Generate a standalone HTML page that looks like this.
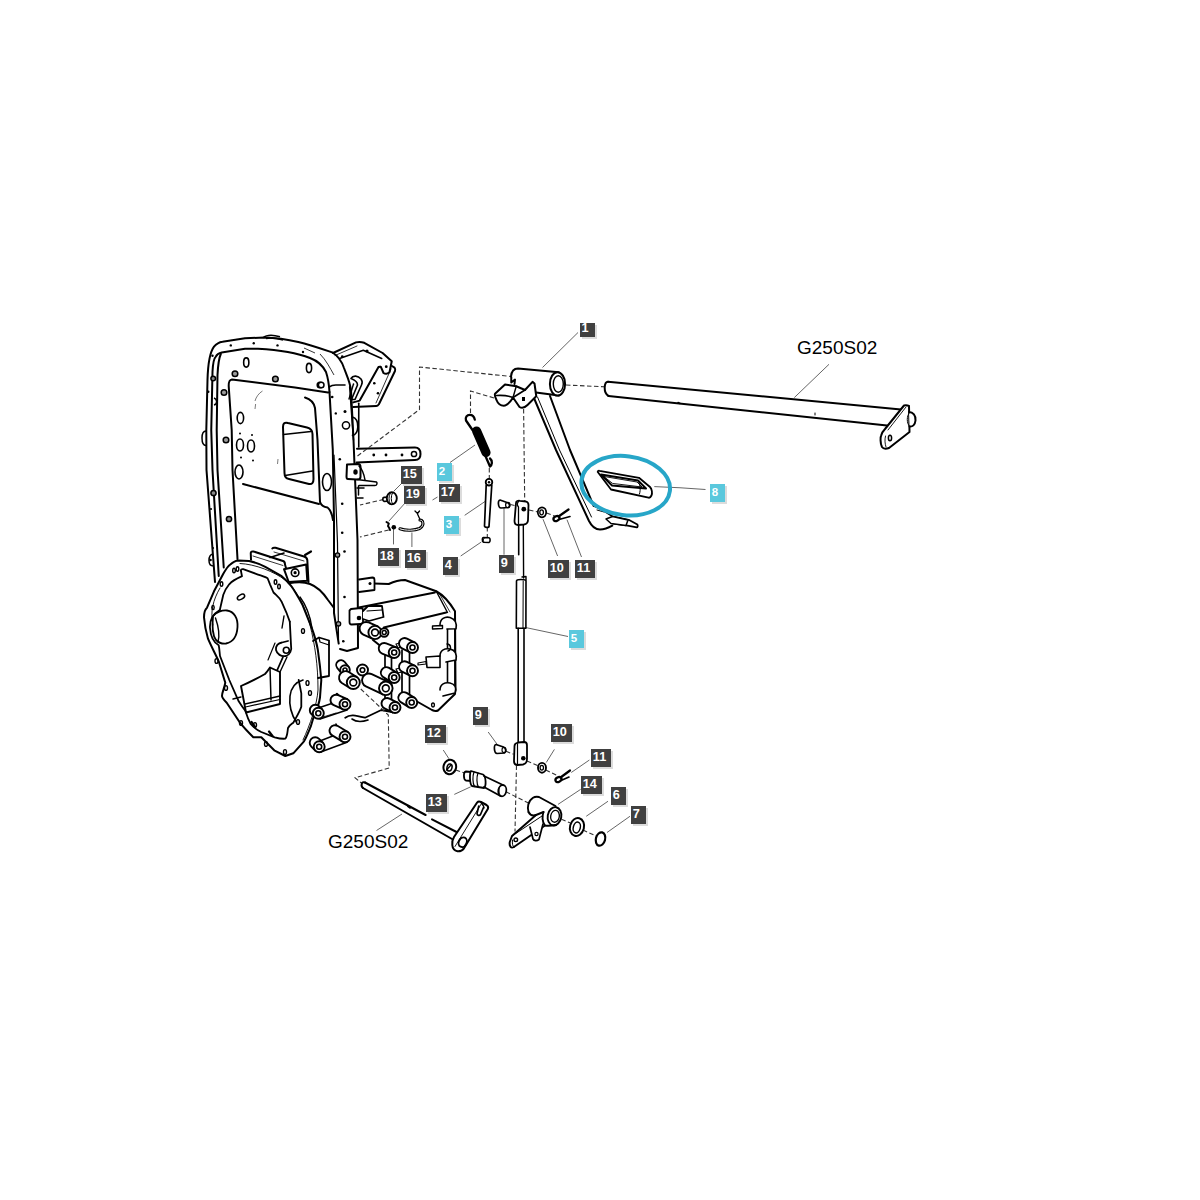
<!DOCTYPE html>
<html><head><meta charset="utf-8"><style>
html,body{margin:0;padding:0;background:#fff;width:1200px;height:1200px;overflow:hidden}
svg{position:absolute;left:0;top:0}
.lb{font-family:"Liberation Sans",sans-serif;font-weight:bold;font-size:12.5px;fill:#fff}
.tx{font-family:"Liberation Sans",sans-serif;font-size:19px;fill:#000}
</style></head><body>
<svg width="1200" height="1200" viewBox="0 0 1200 1200">
<!-- 10_frame.svg -->
<g id="frame" fill="none" stroke="#000" stroke-width="2" stroke-linecap="round" stroke-linejoin="round">
<!-- outer rim outer edge -->
<path d="M215,582 L206.5,470 L206.3,430 L207.5,380 C208,362 210,352 214,346.7 C217,343 220,342 222.5,341.7 L245,338.3 L264,337.5 C290,338 310,345 332.5,352.5 C338,356 342,362 344,368 C347,376 350,382 351,390 L353.5,440 L357.5,540 L358,648 L347,651 L340,649"/>
<!-- rim second line -->
<path d="M218.75,576 L212.5,470 L211.25,430 L212.5,371.7 C213,362 214,358 215.8,356.7 C217,354 219,353 221.7,352.5 L245,348.75 L258,348.75 C280,350 300,354 310,358 C318,361 323,366 326,372 C328,378 329,384 329.5,392"/>
<!-- left rail inner line -->
<path d="M223.75,567.5 L217.5,470 L216.7,430 L217.5,375 C218,365 219,358 220.8,354"/>
<!-- panel -->
<path d="M237.5,559 L232.5,470 L231.7,430 L228.75,386.7 C228.5,382 229,380 232,379.5 L295,387.5 L328,392.5"/>
<!-- right column inner double lines -->
<path d="M329.5,392 L332.8,450 L334,520 L334,613 L338.7,643.6"/>
<path d="M334,455 L337.5,543 L338.5,640" stroke-width="1.2"/>
<!-- panel inner right curve + diagonal -->
<path d="M305,397.5 C310,399 314,403 315,408 L317.5,440 L320,502 C321,505 324,507 327.5,507.5 C331,510 332,514 333,520"/>
<path d="M243,484 L319,504" />
<!-- window -->
<path d="M283,427 C283,423 285,422 288,423 L307,427.5 C311,428.5 312.5,430 312.5,434 L313.5,479 C313.5,483 312,484.5 309,484 L289,479 C286,478.5 284.5,476 284.5,473 Z"/>
<path d="M283.5,434.5 L311,431.5" stroke-width="1.5"/>
<path d="M285,475.5 L312.5,471" stroke-width="1.5"/>
</g>
<g id="frame-holes" fill="none" stroke="#000" stroke-width="1.6">
<ellipse cx="246.25" cy="362.5" rx="2.6" ry="4.6"/>
<ellipse cx="240.4" cy="418" rx="3.2" ry="5.6"/>
<ellipse cx="309" cy="368" rx="2.6" ry="4.6"/>
<ellipse cx="240" cy="445" rx="3.5" ry="6"/>
<ellipse cx="251" cy="446" rx="3.5" ry="6"/>
<ellipse cx="239" cy="472" rx="4" ry="7"/>
<ellipse cx="327" cy="482" rx="4.5" ry="8.5"/>
<ellipse cx="323" cy="372" rx="0" ry="0"/>
</g>
<g id="frame-bolts" fill="#000" stroke="none">
<circle cx="230.8" cy="345.4" r="1.2"/><circle cx="253.75" cy="343.3" r="1.2"/><circle cx="277.5" cy="345.4" r="1.2"/>
<circle cx="303" cy="352" r="1.2"/><circle cx="212.5" cy="355.8" r="1.2"/><circle cx="208.3" cy="391.7" r="1.2"/>
<circle cx="339.8" cy="459.3" r="1.3"/><circle cx="342.2" cy="503.7" r="1.3"/><circle cx="342.2" cy="532.8" r="1.3"/><circle cx="344.5" cy="551.5" r="1.3"/><circle cx="344.5" cy="597" r="1.3"/><circle cx="343.3" cy="641.3" r="1.3"/>
</g>
<g id="frame-nuts" fill="#999" stroke="#000" stroke-width="1.5">
<circle cx="235" cy="373.75" r="2.8"/><circle cx="275.4" cy="379" r="2.8"/><circle cx="224" cy="392.5" r="2.8"/>
<circle cx="320" cy="385" r="2.8"/><circle cx="226" cy="440" r="2.8"/>
</g>
<g fill="#888" stroke="#000" stroke-width="1.5">
<path d="M206,431 C202.5,431 202,434 202,438 C202,443 203,445.5 206,445.5" fill="none"/>
<path d="M213,554 C209.5,554.5 209,557.5 209,560.5 C209,563.5 210,566 213.5,566" fill="none"/><circle cx="210.5" cy="560" r="1.3" fill="#000" stroke="none"/><circle cx="211" cy="509" r="1.1" fill="#000" stroke="none"/><circle cx="213" cy="548" r="1.1" fill="#000" stroke="none"/>
<circle cx="213.5" cy="493" r="2.6"/>
<circle cx="229" cy="519" r="2.6"/>
<circle cx="213.2" cy="378.5" r="2.3"/><path d="M214,398 C217,399 218,404 214,405" fill="none"/>
</g>

<g fill="#000">
<circle cx="240" cy="433.5" r="1"/><circle cx="252" cy="435" r="1"/><circle cx="241" cy="457.5" r="1"/><circle cx="253" cy="460.5" r="1"/>
</g>
<path d="M304,348 L315,353 M320,354 C326,360 330,368 334,375" fill="none" stroke="#000" stroke-width="0.8"/>

<g fill="#999" stroke="#000" stroke-width="1.3">
<circle cx="337.5" cy="555" r="2.2"/><circle cx="338.5" cy="623.8" r="2.2"/>
</g>
<path d="M263,337.8 C266,335.2 272,334.3 280,336.8 M266,338.5 C271,337.5 276,338 283,340" fill="none" stroke="#000" stroke-width="1.5"/>
<path d="M262.5,391 C259,393 256,397 255,401 M255.6,404 L255,409" fill="none" stroke="#444" stroke-width="0.7"/>
<path d="M278,459 L277.5,464" fill="none" stroke="#444" stroke-width="0.7"/>

<!-- 11_frame_right.svg -->
<g id="frame-right" fill="none" stroke="#000" stroke-width="2" stroke-linecap="round" stroke-linejoin="round">
<!-- column top cap -->
<path d="M329.4,386.8 C331,385.5 333,385 335.8,385 L345,385" stroke-width="1.6"/>
<!-- column right rail -->
<path d="M349.6,386.8 L352,420 L353.5,440" stroke-width="1.4"/>
<path d="M358.75,403.3 L358.75,447" stroke-width="1.6"/>
<!-- bracket -->
<path d="M333,353 L356,342.4 C359,341.5 362,342 364.25,342.8 L382.6,353 L391.75,361.2 L389.5,372.2 C388,374 385,374 383.5,373 L380.75,366.7"/>
<path d="M339.5,358.4 L363.3,350.2 L381.7,358.4" stroke-width="1.6"/>
<path d="M335,355.5 L357,346" stroke-width="0.8"/>
<path d="M380,366.7 L378.5,367 L359.7,400.6 L353.25,402.4"/>
<path d="M392,366 L394.5,367.6 C395.5,369 395.5,370 395,371 L378.9,404.25 C378,405.5 377,406 376.2,406 L353.25,407"/>
<path d="M391,369 L376,403" stroke-width="0.8"/>
<!-- hook -->
<path d="M351,378.5 C353,375 358,375.5 361,379 C362.5,381 362.5,383 361.5,385 L355,399.5 L351.5,399.5 L357.5,385 C357.5,382 355,380 351,378.5 Z" stroke-width="1.6"/>
<path d="M353.5,384 L349,399" stroke-width="1.4"/>
<!-- side tab on column -->
<path d="M352.3,417 C356,418 358,422 357.8,427 C357.5,432 355,435 352.5,435.4" stroke-width="1.6"/>
<!-- horizontal strip -->
<path d="M357,448.75 L415,447.5 C419,447.5 420.5,450 420.5,454 C420.5,458 419,460 415,460 L356.5,462.5"/>
<!-- tab with hole -->
<path d="M347,464.5 L358,464 C360,464 360.5,465 360.5,467 L360.5,477 C360.5,479 359,479.5 357,479.5 L348,479 C346.5,479 346.5,478 346.5,476.5 Z" fill="#fff"/>
<path d="M357,479.5 L376.5,482 C377.5,483 377,485.5 375,485.5 L359,485.5" stroke-width="1.5"/>
<path d="M359,466 C362,469 364,474 365,480" stroke-width="1.5"/>
<path d="M358.5,486 L358.5,495" stroke-width="1.5"/>
<path d="M357,488 L364,488 M357,498 L363,498" stroke-width="1.5"/>
</g>
<g fill="#000">
<ellipse cx="355.5" cy="472" rx="2.2" ry="2.8"/>
<circle cx="374.3" cy="383.2" r="1.3"/><circle cx="378" cy="393.25" r="1.3"/><circle cx="386.25" cy="366.7" r="1.4"/>
<circle cx="342.25" cy="356.6" r="1.3"/><circle cx="367" cy="351" r="1.6"/>
<circle cx="345" cy="411.6" r="1.5"/><circle cx="335.8" cy="413.4" r="1.2"/><circle cx="332.2" cy="397" r="1.3"/>
<circle cx="373.75" cy="455" r="1.4"/><circle cx="386" cy="455" r="1.4"/><circle cx="402" cy="455" r="1.4"/>
</g>
<g fill="#fff" stroke="#000" stroke-width="1.5">
<circle cx="346" cy="425.3" r="3.6"/>
<circle cx="321.2" cy="385" r="2.8"/>
<circle cx="414" cy="454" r="2.6"/>
</g>

<!-- 20_bell.svg -->
<g id="bell" fill="none" stroke="#000" stroke-width="2" stroke-linecap="round" stroke-linejoin="round">
<!-- top blocks behind -->
<path d="M251,559.8 L250.75,553 C251,551.5 252,551.2 253.5,551.5 L283,561 C284.5,561.5 285,563 285,564.5 L286.3,569.2" fill="#fff"/>
<path d="M272.3,548.5 C273,547.5 274,547.5 275.5,547.8 L304,556.5 C306,557 307,558 307.3,560 L308.5,582" />
<path d="M284,569.2 L306.2,564.5 L307.3,580.8 L288.7,582 Z" fill="#fff"/>
<path d="M253,556 L283,565.5" stroke-width="0.8"/>
<path d="M274,552 L304,561" stroke-width="0.8"/>
<path d="M270,557.5 L284,553" stroke-width="1.6"/>
<circle cx="295.1" cy="572.7" r="3.8" stroke-width="1.6"/>
<circle cx="295.1" cy="572.7" r="1.6" fill="#000" stroke="none"/>
<path d="M305,555 L311,551.5" stroke-width="2.2"/>
<!-- bell body right side back -->
<path d="M288.7,583.2 C296,582 305,582 310,584 C318,587 324,594 328,600 L334,608" />
<path d="M313,641 L319,637.5 L329,640.5 L329,676 L318,678" stroke-width="1.8"/>
<path d="M319,637.5 L320,642 L329,645" stroke-width="1.2"/>
<path d="M300,597 C306,605 310,615 312,628" stroke-width="1.4"/>
<!-- flange outer contour -->
<path d="M238.5,560.4 L249,561 C256,562.5 262,565 265.3,566.8 L281.7,576.2 C287,581 291,585 293.3,589 C297,595 300,600 302.7,605.3 L312,628.7 C315,637 317,645 317.8,649.7 C319,658 320.5,670 321.3,680 L320,697.5 C319,705 316,712 313,719 L310.7,726.7 C308,733 306,738 304,741.3 L293.3,753.3 L285.3,756 L274.7,750.7 C272,748 270,746 268,744 L261.3,737.3 L253.3,737.3 C248,732 244,728 240,722.7 L226.7,702.7 C224,700 222,698 222,696 C222,692 224.5,688 225.3,682.7 L218.7,661.3 C215,653 211,646 208,638.7 C206,632 204.5,624 204,617.3 C204,612 205.5,609 207,607.7 L214,591.3 L223.3,573.8 C226,569 228,566 230.3,564.5 C233,562 236,560.5 238.5,560.4 Z"/>
<!-- thin inner line of flange -->
<path d="M240,563.5 C255,564 275,572 285,580 C295,588 305,605 310,625 C315,645 318,665 318,690 C317,705 310,725 303,740" stroke-width="0.9"/>
<path d="M213,625 C210,612 213,600 220,588" stroke-width="0.9"/>
<!-- inner opening -->
<path d="M219.8,610 L223.3,594.8 C225,590 227,587 229.2,584.3 C233,580 238,578 242,576.2 L240.8,570.3 C241,569.5 242,569 243.2,569.2 L256,573.8 C262,576 266,577 267.7,578.5 L270,584.3 L273.5,592.5 C277,596 280,598 281.7,601.8 L286.3,612.3 L289.8,621.7" stroke-width="1.8"/>
<!-- bell bottom inner contour -->
<path d="M219.8,610 C213,614 209.5,620 210,628 C210.5,636 213,642 218.7,645.3 C219.5,649 219.5,652 220,656 L229.3,680 L238.7,701.3 C241,705 243,708 245.3,710.7 C247,716 248.5,720 250.7,724 C254,728 257,730 261.3,732 L274.7,737.3 C279,738.5 282,739 285.3,738.7 C287.5,736 287.5,731 288,728 C289.5,725 291.5,724 293.3,722.7 C297,716 300,711 301.3,706.7 L301.3,693.3 L298.7,680" stroke-width="1.8"/>
<path d="M251.5,722 L255,727 M269,731.5 L272.5,736" stroke-width="2.2"/>
<!-- rib and eyelet -->
<path d="M289.8,621.7 L291,645 C292,650 290,655 286,656 C281,657 277,654 276,650 C275.5,646 278,643 282,642.5 L288,641" stroke-width="1.8"/>
<circle cx="286.3" cy="650.2" r="3" stroke-width="1.6"/>
<path d="M284,616 L282,628" stroke-width="1.4"/>
<path d="M283,657 L275,675" stroke-width="1.8"/>
<path d="M287,657 L280,672" stroke-width="1.4"/>
<!-- circle hole left -->
<path d="M213,616 C216,612 222,610 227,610.5 C234,611.5 238,618 237.5,627 C237,636 233,642 226,643.5 C222,644 219,643 216,640 C213,636 212,626 213,616 Z" stroke-width="1.8"/>
<path d="M215.5,618 C219,628 220,635 218,642" stroke-width="1.4"/>
<!-- slot top -->
<ellipse cx="241" cy="597" rx="4" ry="2.2" transform="rotate(-30 241 597)" stroke-width="1.5"/>
<!-- block prism inside -->
<path d="M241,686 C248,683 258,678 265,674 C267,672 269,669 270,667.5 L280,672 L280,704 L246,712.5 L241,686 Z" fill="#fff" stroke-width="1.9"/>
<path d="M270,667.5 L271,700" stroke-width="1.5"/>
<path d="M245,704 L280,696" stroke-width="1.5"/>
<path d="M245.5,707 L280,699.5" stroke-width="1.2"/>
<path d="M233,699 L241,697" stroke-width="1.4"/>
<path d="M275,643 L268,660" stroke-width="1.2"/>
<!-- oval right lower hole -->
<path d="M303,680 C296,682 291,688 290,696 C289,705 291,714 296.5,722.3" stroke-width="1.6"/>
</g>
<g fill="none" stroke="#000" stroke-width="1.4">
<ellipse cx="234" cy="570.5" rx="1.3" ry="2.2"/><ellipse cx="237.5" cy="569" rx="1.3" ry="2.2"/>
<ellipse cx="221.5" cy="584" rx="1.3" ry="2.2"/><ellipse cx="213" cy="607.5" rx="1.2" ry="2"/>
<ellipse cx="275.5" cy="582" rx="1.3" ry="2.2"/><ellipse cx="279" cy="586.5" rx="1.3" ry="2.2"/>
<ellipse cx="303" cy="631" rx="1.5" ry="2.4"/>
<ellipse cx="307.5" cy="683" rx="1.5" ry="2.4"/><ellipse cx="310" cy="693" rx="1.5" ry="2.4"/>
<ellipse cx="216.5" cy="661" rx="1.5" ry="2.4"/><ellipse cx="226" cy="688" rx="1.5" ry="2.4"/>
<ellipse cx="241" cy="723" rx="1.5" ry="2.4"/><ellipse cx="255" cy="725" rx="1.5" ry="2.4"/>
<ellipse cx="298" cy="722" rx="1.5" ry="2.4"/><ellipse cx="266" cy="744" rx="1.5" ry="2.4"/><ellipse cx="285" cy="752" rx="1.5" ry="2.4"/>
</g>

<!-- 30_gear.svg -->
<g id="gear" fill="none" stroke="#000" stroke-width="2" stroke-linecap="round" stroke-linejoin="round">
<path d="M374,583.5 L388.75,584 C395,581 400,580 405,580 L436.25,591.25 C445,596 450,603 455,611.25 L455.5,688 L455,694 L438,710.5 C436,711.5 434,711 432,710 L417,701.5" stroke-width="2" fill="#fff"/>
<path d="M358.75,607.5 L435,592.5" stroke-width="1.8" fill="none"/>
<path d="M383.75,627.5 L446.25,612.5" stroke-width="1.8" fill="none"/>
<path d="M436.25,591.25 L447.5,612.5" stroke-width="1.4" fill="none"/>
<path d="M439,593 L450,612" stroke-width="0.8" fill="none"/>
<path d="M359,579.5 L372.5,577.5 C374,577.5 374.5,578.5 374.5,580 L374.5,590 L359,592" stroke-width="1.8" fill="#fff"/>
<circle cx="370" cy="583.5" r="1.5" fill="#000" stroke="none"/>
<path d="M351,609 L361,608 C362.5,608 363,609 363,610.5 L363,622 C363,623.5 362,624 360.5,624 L351.5,624.5 C350,624.5 349.5,623.5 349.5,622 L349.5,610.5 Z" stroke-width="1.8" fill="#fff"/>
<circle cx="359" cy="618" r="2.3" fill="#000" stroke="none"/>
<path d="M363,611 L368,606 L382,606 L383.5,617 L369,621 L363,619" stroke-width="1.8" fill="#fff"/>
<path d="M367,611 L382,610" stroke-width="1.2" fill="none"/>
<path d="M447.5,627.5 L447.5,682.5 M455,612 L455,690" stroke-width="1.6" fill="none"/>
<path d="M440,625 C440,619 445,616 450,617.5 C455,619 457,623 456,628.75 L447,629" stroke-width="1.6" fill="#fff"/>
<path d="M440,656 C440,650 445,648 450,649 C455,650 457,654 456,660 L446,662" stroke-width="1.6" fill="#fff"/>
<path d="M440,690 C440,684 445,682 450,683 C455,684 457,688 455,693 L443,696" stroke-width="1.6" fill="#fff"/>
<path d="M447,644 C451,644 452,650 448,651" stroke-width="1.4" fill="none"/>
<path d="M432.5,626 L442.5,625.5 L442.5,628.5 L432.5,629 Z" stroke-width="1.4" fill="#fff"/>
<path d="M426,657 L440,656 L440,667.5 L427,667.5 Z" stroke-width="1.6" fill="#fff"/>
<path d="M418,663 L426,661.5 L426,664 L418,665 Z" stroke-width="1.2" fill="#fff"/>
<ellipse cx="433" cy="705" rx="1.4" ry="2" stroke-width="1.4"/>
<path d="M345.2,717.7 C350,714 355,715 365,717.7 L381.3,710 L392,712" stroke-width="1.8" fill="none"/>
<path d="M352,719 C356,722 362,722 368,720" stroke-width="1.6" fill="none"/>
<path d="M385,655 L385,700 M391.5,655 L391.5,702" stroke-width="1.7" fill="none"/>
<path d="M402,650 L402,697 M409.5,650 L409.5,697" stroke-width="1.7" fill="none"/>
<path d="M396,644 L404,642 L406,646 L398,648 Z" stroke-width="1.2" fill="#fff"/>
<path d="M396,669 L404,667 L406,671 L398,673 Z" stroke-width="1.2" fill="#fff"/>
<path d="M373,640 L383,648" stroke-width="2" fill="none"/>
<path d="M337,694 L344,702" stroke-width="2.5" fill="none"/>
<path d="M318.3,708 L345,699 M320,719 L347,710" stroke-width="1.6" fill="none"/>
<path d="M319.2,741.2 L345,731.2 M320,752.2 L347,742.2" stroke-width="1.6" fill="none"/>
<path d="M336,724 L340,735" stroke-width="1.6" fill="none"/>
<path d="M323,717 L336,713" stroke-width="0.8" fill="none"/>
<path d="M377.68,626.47 L368.68,622.47 A6.6,6.6 0 0 0 363.32,634.53 L372.32,638.53 Z" fill="#fff" stroke-width="1.9"/>
<circle cx="375" cy="632.5" r="6.6" fill="#fff" stroke-width="1.9"/>
<circle cx="375" cy="632.5" r="3.4" stroke-width="1.6"/>
<circle cx="384.2" cy="632.5" r="4.2" fill="#fff" stroke-width="1.9"/>
<circle cx="384.2" cy="632.5" r="2" stroke-width="1.6"/>
<path d="M414.96,642.58 L406.96,638.58 A5.5,5.5 0 0 0 402.04,648.42 L410.04,652.42 Z" fill="#fff" stroke-width="1.9"/>
<circle cx="412.5" cy="647.5" r="5.5" fill="#fff" stroke-width="1.9"/>
<circle cx="412.5" cy="647.5" r="2.5" stroke-width="1.6"/>
<path d="M396.24,647.39 L386.24,643.39 A5.5,5.5 0 0 0 382.16,653.61 L392.16,657.61 Z" fill="#fff" stroke-width="1.9"/>
<circle cx="394.2" cy="652.5" r="5.5" fill="#fff" stroke-width="1.9"/>
<circle cx="394.2" cy="652.5" r="2.5" stroke-width="1.6"/>
<path d="M414.96,665.88 L406.96,661.88 A5.5,5.5 0 0 0 402.04,671.72 L410.04,675.72 Z" fill="#fff" stroke-width="1.9"/>
<circle cx="412.5" cy="670.8" r="5.5" fill="#fff" stroke-width="1.9"/>
<circle cx="412.5" cy="670.8" r="2.5" stroke-width="1.6"/>
<path d="M397.11,672.84 L389.11,667.84 A5.5,5.5 0 0 0 383.29,677.16 L391.29,682.16 Z" fill="#fff" stroke-width="1.9"/>
<circle cx="394.2" cy="677.5" r="5.5" fill="#fff" stroke-width="1.9"/>
<circle cx="394.2" cy="677.5" r="2.5" stroke-width="1.6"/>
<path d="M414.61,697.84 L406.61,692.84 A5.5,5.5 0 0 0 400.79,702.16 L408.79,707.16 Z" fill="#fff" stroke-width="1.9"/>
<circle cx="411.7" cy="702.5" r="5.5" fill="#fff" stroke-width="1.9"/>
<circle cx="411.7" cy="702.5" r="2.5" stroke-width="1.6"/>
<path d="M397.46,702.58 L389.46,698.58 A5.5,5.5 0 0 0 384.54,708.42 L392.54,712.42 Z" fill="#fff" stroke-width="1.9"/>
<circle cx="395" cy="707.5" r="5.5" fill="#fff" stroke-width="1.9"/>
<circle cx="395" cy="707.5" r="2.5" stroke-width="1.6"/>
<path d="M348.75,667.00 L344.75,662.00 A4.8,4.8 0 0 0 337.25,668.00 L341.25,673.00 Z" fill="#fff" stroke-width="1.9"/>
<circle cx="345" cy="670" r="4.8" fill="#fff" stroke-width="1.9"/>
<circle cx="345" cy="670" r="2" stroke-width="1.6"/>
<circle cx="362.5" cy="670" r="5.5" fill="#fff" stroke-width="1.9"/>
<circle cx="362.5" cy="670" r="2.3" stroke-width="1.6"/>
<path d="M356.74,676.99 L348.74,671.99 A6.5,6.5 0 0 0 341.86,683.01 L349.86,688.01 Z" fill="#fff" stroke-width="1.9"/>
<circle cx="353.3" cy="682.5" r="6.5" fill="#fff" stroke-width="1.9"/>
<circle cx="353.3" cy="682.5" r="3.4" stroke-width="1.6"/>
<path d="M388.70,682.15 L371.70,674.15 A6.8,6.8 0 0 0 365.90,686.45 L382.90,694.45 Z" fill="#fff" stroke-width="1.9"/>
<circle cx="385.8" cy="688.3" r="6.8" fill="#fff" stroke-width="1.9"/>
<circle cx="385.8" cy="688.3" r="3.4" stroke-width="1.6"/>
<path d="M347.23,699.17 L338.23,695.17 A5.5,5.5 0 0 0 333.77,705.23 L342.77,709.23 Z" fill="#fff" stroke-width="1.9"/>
<circle cx="345" cy="704.2" r="5.5" fill="#fff" stroke-width="1.9"/>
<circle cx="345" cy="704.2" r="2.5" stroke-width="1.6"/>
<path d="M322.19,709.41 L319.19,706.41 A5.5,5.5 0 0 0 311.41,714.19 L314.41,717.19 Z" fill="#fff" stroke-width="1.9"/>
<circle cx="318.3" cy="713.3" r="5.5" fill="#fff" stroke-width="1.9"/>
<circle cx="318.3" cy="713.3" r="2.5" stroke-width="1.6"/>
<path d="M347.83,731.98 L337.83,725.98 A5.5,5.5 0 0 0 332.17,735.42 L342.17,741.42 Z" fill="#fff" stroke-width="1.9"/>
<circle cx="345" cy="736.7" r="5.5" fill="#fff" stroke-width="1.9"/>
<circle cx="345" cy="736.7" r="2.5" stroke-width="1.6"/>
<path d="M323.09,742.81 L319.09,738.81 A5.5,5.5 0 0 0 311.31,746.59 L315.31,750.59 Z" fill="#fff" stroke-width="1.9"/>
<circle cx="319.2" cy="746.7" r="5.5" fill="#fff" stroke-width="1.9"/>
<circle cx="319.2" cy="746.7" r="2.5" stroke-width="1.6"/>
</g>
<!-- 40_lines.svg -->
<g id="dashed" fill="none" stroke="#333" stroke-width="1.1" stroke-dasharray="4.5,2.5">
<path d="M357.5,456 L419.5,409.5 L419.5,367 L511,376.5"/>
<path d="M470.5,413 L470.5,391 L496,398.5"/>
<path d="M523.6,409 L524.7,501"/>
<path d="M489.3,468 L489.3,479"/>
<path d="M487.3,527 L487.3,537.5"/>
<path d="M510.5,504.5 L514.5,505.5"/>
<path d="M529,510 L538,512"/>
<path d="M546.5,513 L555.8,516.5"/>
<path d="M566,385 L604.3,386.8"/>
<path d="M383.75,499.4 L360,505"/>
<path d="M388.75,530 L360,537"/>
<path d="M360.8,689 L388.3,715 L389.2,768 L355,777.8 L362,783.5"/>
<path d="M455.75,770 L464.75,773"/>
<path d="M506,751.25 L513.5,754.25"/>
<path d="M527,761 L539,766.25"/>
<path d="M545.75,770 L558.5,776"/>
<path d="M516.5,765.5 L515,831.5"/>
<path d="M506,791.75 L528.5,803"/>
<path d="M555,816.5 L570.5,823"/>
<path d="M583,830 L596,836"/>
</g>
<g id="leaders" fill="none" stroke="#555" stroke-width="0.9">
<path d="M393.75,491.25 L401.25,483.75"/>
<path d="M388.75,521.25 L404.4,503.75"/>
<path d="M393.5,528.5 L393.5,544.4"/>
<path d="M411.9,532.5 L411.9,547"/>
<path d="M432.5,500 L437.5,497"/>
<path d="M450,462.5 L475,445"/>
<path d="M464.7,515.3 L485.3,501.3"/>
<path d="M460.7,556 L481.3,542"/>
<path d="M504,508 L504,554.7"/>
<path d="M543,519.2 L557.6,556"/>
<path d="M567,519.75 L581.5,557"/>
<path d="M578,332.5 L542.5,367.5"/>
<path d="M654.3,486.6 L680,487.75 L705.5,489.5"/>
<path d="M525,627.4 L568,636.5"/>
<path d="M829,364.3 L794.3,397.6"/>
<path d="M376.5,830.5 L402,814"/>
<path d="M488.2,732 L497.5,744.8"/>
<path d="M443.25,750 L449,758.8"/>
<path d="M454.3,794.4 L470.7,786.8"/>
<path d="M554.4,749.4 L546.25,762.5"/>
<path d="M589.4,760 L571.25,772.5"/>
<path d="M580.6,789.4 L558,804.4"/>
<path d="M608,801.25 L586.25,816.25"/>
<path d="M630,816.25 L607,832.5"/>
</g>

<!-- 50_parts_top.svg -->
<g id="parts-top" fill="none" stroke="#000" stroke-width="1.8" stroke-linecap="round" stroke-linejoin="round">
<!-- knob 15 -->
<path d="M384,497.3 L390,497 L390.5,501 L384,501.3 C382.5,501.2 382.3,497.5 384,497.3 Z" fill="#fff" stroke-width="1.7"/>
<ellipse cx="391.8" cy="498.3" rx="5" ry="6.1" fill="#fff" stroke-width="1.9"/>
<path d="M390.5,493 C388.5,496 388.5,501 390.5,504 M392.5,492.8 C390.8,496 390.8,501 392.5,504" stroke-width="1"/>
<!-- clip 19 -->
<path d="M386.5,522 L388.8,523.5 L388,526 L389.5,528.5 L390,530" stroke-width="2"/>
<circle cx="393.8" cy="527.3" r="2.3" fill="#000" stroke="none"/>
<!-- wire 16 -->
<path d="M400,528.8 C406,531 415,530.5 419.5,528.5 C422.5,527 423.5,524 422.5,521.5 C422,520.5 421,520 420,520" stroke-width="3.2"/>
<path d="M400,528.8 C406,531 415,530.5 419.5,528.5 C422.5,527 423.5,524 422.5,521.5 C422,520.5 421,520 420,520" stroke="#fff" stroke-width="1"/>
<path d="M420,519.5 L417.5,514 M415,511 L417.5,513.5 L419.5,511" stroke-width="1.3"/>
<!-- spring 2 -->
<path d="M472.5,430 L466,420.5 C465,417 467,414.8 469.8,414.8 C472.5,414.8 474.3,417 474.8,419.6" stroke-width="2.3"/>
<path d="M476.6,431 L486,452.5" stroke-width="9.2" stroke-linecap="round"/>
<path d="M485,455 L490,466.5 C492,465 493,461 490,458.5" stroke-width="2.3"/>
<!-- pin 3 -->
<path d="M486.2,485 L484.5,526 C484.5,527.5 488.8,527.8 489,526.5 L491.8,485" fill="#fff" stroke-width="1.7"/>
<circle cx="489" cy="482.2" r="3.3" fill="#fff" stroke-width="1.8"/>
<circle cx="489" cy="482.2" r="1.2" fill="#000" stroke="none"/>
<!-- sleeve 4 -->
<path d="M483.5,537.5 L489,537.8 C490.5,538 490.5,542 489,542.5 L483.5,542.3 C482,542 482,537.5 483.5,537.5 Z" fill="#fff" stroke-width="1.6"/>
<path d="M484,538.3 C483,539.5 483,541 484,542" stroke-width="1"/>
<!-- pin 9 -->
<path d="M500,500 L507,502.5 C509.5,503 510.5,506 508.5,507.5 L501,508 C498,508 497.5,500 500,500 Z" fill="#fff" stroke-width="1.7"/>
<ellipse cx="507.8" cy="505" rx="2.2" ry="2.6" stroke-width="1.2"/>
<!-- clevis top -->
<path d="M516,503 C516,501 518,500.5 520,500.8 L526,501.5 C528,502 528.5,503 528.5,505 L528,520 C528,523 526.5,524 524,524.5 L518,525 C515.5,525 514.5,523.5 514.5,521 Z" fill="#fff" stroke-width="1.8"/>
<path d="M518.5,501.5 C516.5,503.5 517.5,506 518.5,507 L518.5,524.5" stroke-width="1.3"/>
<circle cx="523.8" cy="509.2" r="2.4" fill="#000" stroke="none"/>
<!-- rod 5 -->
<path d="M518.7,525 L518.7,554.7" stroke-width="1.6"/>
<path d="M523.3,525 L523.6,578" stroke-width="1.4"/>
<path d="M522,577 L526,576.5 L526,580" stroke-width="1.4"/>
<path d="M516.5,581 C516.5,580 519,579.5 521,579.5 C523.5,579.5 526,580 526,581 L525.9,628.3 L516.3,628.3 Z" fill="#fff" stroke-width="1.6"/>
<path d="M523.2,581 L523,628" stroke-width="1"/>
<path d="M518.2,628.3 L518.2,743 M524,628.3 L524,743" stroke-width="1.6"/>
<!-- washer 10 -->
<ellipse cx="542" cy="512.3" rx="4.2" ry="5" fill="#fff" stroke-width="1.8"/>
<ellipse cx="541.6" cy="512.3" rx="1.8" ry="2.5" stroke-width="1.3"/>
<!-- clip 11 -->
<ellipse cx="556.5" cy="518.5" rx="3.2" ry="2.3" transform="rotate(-30 556.5 518.5)" stroke-width="2.2"/>
<path d="M558.5,516.5 L568.5,509.5" stroke-width="2.2"/>
<path d="M559,519.5 L570,516.5" stroke-width="1.6"/>
</g>

<!-- 60_pedal.svg -->
<g id="pedal" fill="none" stroke="#000" stroke-width="2" stroke-linecap="round" stroke-linejoin="round">
<!-- top shaft -->
<path d="M608,381.8 L901,409.5 M608.5,396 L887,425.5" stroke-width="2"/>
<path d="M608,381.8 C604,382 603,393 608.5,396" stroke-width="2"/>
<path d="M678,402.5 L680,403.5" stroke-width="1.5"/>
<path d="M815,413 L815,415" stroke-width="1"/>
<!-- plate at shaft end -->
<path d="M904,405.5 C906,405 908,405.5 909,406 L909.5,432 L889,448 C886,449 883,448.5 882,447 C880,443 880.5,437 881,436 C882,432 884,430 885,429 Z" fill="#fff"/>
<path d="M885.5,436 C884.5,440 885,444 886,447 M906,407 L888,430" stroke-width="0.9"/>
<ellipse cx="890" cy="438" rx="1.6" ry="2.8" stroke-width="1.5"/>
<path d="M909,412 C913,412 916,415.5 915.5,420.5 C915,425 912.5,427 909.5,426.5" fill="#fff"/>
<path d="M909.3,413 C906.5,416 906.5,423 909.3,426" stroke-width="1"/>
<!-- pedal arm -->
<path d="M533.75,397.5 L556,450 L589,521 C592,527 596,529.5 600,529.5 C605,529.5 610,527 612.3,525.7" fill="none"/>
<path d="M537.5,397 L559.5,450 L591.5,517" stroke-width="1"/>
<path d="M550,396 L570,450 L593.7,505.8" />
<!-- foot plate -->
<path d="M593.7,505.8 C598,507 602,510 605.3,511.7 L612.3,516.3 L628.7,519.8 L637.4,524.5 C638,526 637.5,527.5 636.8,527.4 L627.5,525.7 L612.3,523.3" fill="#fff" stroke-width="1.8"/>
<path d="M606,519 L612.5,516.5 L628,520 L626,525.5 L611,523.5 Z" fill="#fff" stroke-width="1.5"/>
<path d="M597,510 L604,512" stroke-width="1"/>
<!-- hub -->
<path d="M511,376.5 C511.5,371 514,368.5 518,368.5 L558.75,372.3 L558.75,395.6 L536,392.5" fill="#fff"/>
<ellipse cx="557.5" cy="383.9" rx="7.6" ry="11.7" fill="#fff"/>
<ellipse cx="558.3" cy="384" rx="5" ry="8.2" stroke-width="1.4"/>
<!-- clip bracket under hub -->
<path d="M511.25,377 L511.25,382.5 L515,379.5 L514.5,384" stroke-width="2"/>
<path d="M495,393.75 L505,384.4 L516.25,386.25 L525,390 L532.5,381.9 L534.5,383.5 L536.25,396.25 L527.5,405 C525,407.5 522,408.5 519.5,407 L513,397.5 C511,401 508,404.5 505,405.6 C501,406 498,404 496.5,400 C495,397 494.5,395 495,393.75 Z" fill="#fff" stroke-width="2"/>
<path d="M496.5,395.5 C503,395 509,396 513,397.5 L525,390" stroke-width="1.6"/>
<path d="M516.25,386.25 L513,397.5" stroke-width="1.4"/>
<rect x="522" y="397" width="3" height="4" fill="#000" stroke="none"/>
<!-- pad 8 -->
<path d="M597.75,472 C597.5,471 598.5,470.5 599.5,470.8 L639,477.8 L650,487 C652,489 652.5,493 651.5,495.5 C650.5,497.5 649.5,498 648.5,497.7 L611,489.5 Z" fill="#fff" stroke-width="1.8"/>
<path d="M601,474.5 L638,480.5 L646,488.5 L612,485.5 Z" stroke-width="2"/>
<path d="M604,476.5 L637,482 L642,487 L613,483.5 Z" stroke-width="0.9"/>
<path d="M638,480.5 C640,484 641,489 639.5,494" stroke-width="1"/>
</g>
<ellipse cx="625.7" cy="485.7" rx="44.5" ry="29.5" transform="rotate(7 625.7 485.7)" fill="none" stroke="#27a6c8" stroke-width="4"/>

<!-- 70_parts_bottom.svg -->
<g id="parts-bottom" fill="none" stroke="#000" stroke-width="2" stroke-linecap="round" stroke-linejoin="round">
<!-- bottom shaft G250S02 -->
<path d="M365,782.5 L425.6,815 M432,819.4 L457.5,832.5" stroke-width="2"/>
<path d="M363,788 L453.75,840" stroke-width="2"/>
<path d="M365,782.5 C361.5,781 360.5,786 363,788" stroke-width="2"/>
<path d="M408,806 L410,807.5" stroke-width="2.2"/>
<!-- lever arm at shaft end -->
<path d="M477.3,802.3 C478,801.5 479.5,801.5 481,802 L486.5,805 C488,806 488.5,807.5 487.8,809 L464,848.3 C462,851 460,851.5 457.5,851.3 C454.5,850.5 452.5,848 452.3,845 C452,842 452.5,839.5 454,837 Z" fill="#fff" stroke-width="2"/>
<path d="M481.5,803.5 L455,846.5" stroke-width="0.9"/>
<path d="M481,802.5 L483.5,806 L484,808" stroke-width="1.3"/>
<path d="M478.8,806 L477,813.5 C477,815.5 479.5,816 480.5,814.5 L483.5,807.5" stroke-width="1.7"/>
<ellipse cx="462.7" cy="842.2" rx="3.9" ry="5" transform="rotate(25 462.7 842.2)" stroke-width="1.9"/>
<!-- washer 12 -->
<ellipse cx="449.8" cy="767" rx="6.3" ry="7.2" transform="rotate(15 449.8 767)" fill="#fff" stroke-width="2"/>
<ellipse cx="449.5" cy="767.5" rx="2.5" ry="3.6" transform="rotate(15 449.5 767.5)" stroke-width="1.5"/>
<path d="M446.5,770 L451,765" stroke-width="1.2"/>
<!-- pin 13 -->
<path d="M466,771.5 L471,772 L472,781 L466,780.5 C463.5,780 463,772 466,771.5 Z" fill="#fff" stroke-width="1.8"/>
<path d="M471,771 L483,774.5 C486,776 486.5,786 484,788 L472,786 C469.5,784 469.5,773 471,771 Z" fill="#fff" stroke-width="1.8"/>
<path d="M474,772 C472.5,776 472.5,783 474.5,786.5 M478,773 C476.5,777 476.5,784 478.5,787" stroke-width="1.2"/>
<path d="M484,776 L504,785.5 M484,787 L500.5,796" stroke-width="1.8"/>
<ellipse cx="502.3" cy="790.7" rx="4" ry="5.6" transform="rotate(10 502.3 790.7)" fill="#fff" stroke-width="1.8"/>
<path d="M500,786 C498.5,789 498.5,793 500.5,795.5" stroke-width="1"/>
<!-- pin 9b -->
<path d="M496,744.5 L503.5,747 C506,748 506.5,752 504.5,753 L497,753.5 C494,753.5 493.5,745 496,744.5 Z" fill="#fff" stroke-width="1.7"/>
<ellipse cx="504" cy="750" rx="2" ry="2.6" stroke-width="1.1"/>
<!-- clevis bottom -->
<path d="M514.5,746 C514.5,744 516,743 518,742.5 L524,742 C526,742 527,743 527,745 L527,759 C527,762 525.5,764 523,764.5 L517.5,765 C515,765 514,763.5 514,761 Z" fill="#fff" stroke-width="1.8"/>
<path d="M517.5,743.5 L517.5,764" stroke-width="1.2"/>
<circle cx="523.3" cy="758.2" r="2.3" fill="#000" stroke="none"/>
<!-- washer 10b -->
<ellipse cx="542" cy="767.8" rx="4" ry="4.9" fill="#fff" stroke-width="1.9"/>
<ellipse cx="541.8" cy="767.8" rx="1.7" ry="2.4" stroke-width="1.3"/>
<!-- clip 11b -->
<ellipse cx="558.5" cy="779.5" rx="3.2" ry="2.3" transform="rotate(-30 558.5 779.5)" stroke-width="2.2"/>
<path d="M560.5,777.5 L570,770.5" stroke-width="2.2"/>
<path d="M561,780.5 L569,777" stroke-width="1.6"/>
<!-- lever 14 -->
<path d="M545,825.5 L513.5,847.25 C511,848.5 509,846 509.75,842 L512,836 L536,815 L543.5,812" fill="#fff" stroke-width="1.9"/>
<path d="M512.5,840 C512,843 512.5,846 514,847.5" stroke-width="1"/>
<path d="M512,836 L542,816" stroke-width="1"/>
<circle cx="515.8" cy="839.8" r="1.8" stroke-width="1.4"/>
<path d="M530,827 L533,839 C534,841 537,841 539,839.5 L543,824" fill="#fff" stroke-width="1.7"/>
<circle cx="536.5" cy="834" r="1.6" stroke-width="1.2"/>
<path d="M528.5,812 C527,808 528,801 533,797.75 C535,796.5 537,796.5 539,797 L555.5,806" fill="#fff" stroke-width="1.9"/>
<path d="M528.5,812 C530,815 533,816 536,815" stroke-width="1.9"/>
<ellipse cx="554.5" cy="816.3" rx="6.8" ry="9.2" transform="rotate(10 554.5 816.3)" fill="#fff" stroke-width="1.9"/>
<ellipse cx="555" cy="816.3" rx="4.3" ry="6" transform="rotate(10 555 816.3)" stroke-width="1.3"/>
<path d="M543.5,812 C542,816 542,822 545,825.5 M545,825.5 C549,826 553,825.5 556,825" stroke-width="1.9"/>
<!-- washer 6 -->
<ellipse cx="577" cy="827" rx="7" ry="9" transform="rotate(15 577 827)" fill="#fff" stroke-width="2"/>
<ellipse cx="576.8" cy="827.5" rx="3.5" ry="5.5" transform="rotate(15 576.8 827.5)" stroke-width="1.5"/>
<!-- ring 7 -->
<ellipse cx="600.5" cy="839" rx="4.6" ry="6.8" transform="rotate(15 600.5 839)" stroke-width="2.2"/>
</g>

<!-- 90_labels.svg -->
<g id="labels">
<rect x="582" y="325" width="15" height="14" fill="#dcdcdc"/>
<rect x="580" y="323" width="15" height="14" fill="#404040"/>
<text class="lb" x="581.5" y="331.5" style="font-size:12.7px">1</text>
<rect x="403" y="468" width="21" height="18" fill="#dcdcdc"/>
<rect x="401" y="466" width="21" height="18" fill="#404040"/>
<text class="lb" x="402.8" y="478" style="font-size:12.7px">15</text>
<rect x="406" y="488" width="21" height="18" fill="#dcdcdc"/>
<rect x="404" y="486" width="21" height="18" fill="#404040"/>
<text class="lb" x="405.8" y="498" style="font-size:12.7px">19</text>
<rect x="441" y="486" width="21" height="18" fill="#dcdcdc"/>
<rect x="439" y="484" width="21" height="18" fill="#404040"/>
<text class="lb" x="440.8" y="496" style="font-size:12.7px">17</text>
<rect x="380" y="550" width="21" height="18" fill="#dcdcdc"/>
<rect x="378" y="548" width="21" height="18" fill="#404040"/>
<text class="lb" x="379.8" y="560" style="font-size:12.7px">18</text>
<rect x="407" y="552" width="21" height="18" fill="#dcdcdc"/>
<rect x="405" y="550" width="21" height="18" fill="#404040"/>
<text class="lb" x="406.8" y="562" style="font-size:12.7px">16</text>
<rect x="445" y="559" width="15" height="18" fill="#dcdcdc"/>
<rect x="443" y="557" width="15" height="18" fill="#404040"/>
<text class="lb" x="444.8" y="569" style="font-size:12.7px">4</text>
<rect x="501" y="557" width="15" height="18" fill="#dcdcdc"/>
<rect x="499" y="555" width="15" height="18" fill="#404040"/>
<text class="lb" x="500.8" y="567" style="font-size:12.7px">9</text>
<rect x="550" y="562" width="21" height="18" fill="#dcdcdc"/>
<rect x="548" y="560" width="21" height="18" fill="#404040"/>
<text class="lb" x="549.8" y="572" style="font-size:12.7px">10</text>
<rect x="577" y="562" width="20" height="18" fill="#dcdcdc"/>
<rect x="575" y="560" width="20" height="18" fill="#404040"/>
<text class="lb" x="576.8" y="572" style="font-size:12.7px">11</text>
<rect x="475" y="709" width="15" height="18" fill="#dcdcdc"/>
<rect x="473" y="707" width="15" height="18" fill="#404040"/>
<text class="lb" x="474.8" y="719" style="font-size:12.7px">9</text>
<rect x="427" y="727" width="21" height="18" fill="#dcdcdc"/>
<rect x="425" y="725" width="21" height="18" fill="#404040"/>
<text class="lb" x="426.8" y="737" style="font-size:12.7px">12</text>
<rect x="553" y="726" width="21" height="18" fill="#dcdcdc"/>
<rect x="551" y="724" width="21" height="18" fill="#404040"/>
<text class="lb" x="552.8" y="736" style="font-size:12.7px">10</text>
<rect x="593" y="751" width="20" height="18" fill="#dcdcdc"/>
<rect x="591" y="749" width="20" height="18" fill="#404040"/>
<text class="lb" x="592.8" y="761" style="font-size:12.7px">11</text>
<rect x="583" y="778" width="21" height="18" fill="#dcdcdc"/>
<rect x="581" y="776" width="21" height="18" fill="#404040"/>
<text class="lb" x="582.8" y="788" style="font-size:12.7px">14</text>
<rect x="428" y="796" width="21" height="18" fill="#dcdcdc"/>
<rect x="426" y="794" width="21" height="18" fill="#404040"/>
<text class="lb" x="427.8" y="806" style="font-size:12.7px">13</text>
<rect x="613" y="789" width="15" height="18" fill="#dcdcdc"/>
<rect x="611" y="787" width="15" height="18" fill="#404040"/>
<text class="lb" x="612.8" y="799" style="font-size:12.7px">6</text>
<rect x="633" y="808" width="15" height="18" fill="#dcdcdc"/>
<rect x="631" y="806" width="15" height="18" fill="#404040"/>
<text class="lb" x="632.8" y="818" style="font-size:12.7px">7</text>
<rect x="439" y="465" width="15" height="18" fill="#dcdcdc"/>
<rect x="437" y="463" width="15" height="18" fill="#5ac8dd"/>
<text class="lb" x="438.8" y="475" style="font-size:11.5px">2</text>
<rect x="446" y="518" width="15" height="18" fill="#dcdcdc"/>
<rect x="444" y="516" width="15" height="18" fill="#5ac8dd"/>
<text class="lb" x="445.8" y="528" style="font-size:11.5px">3</text>
<rect x="712" y="486" width="15" height="18" fill="#dcdcdc"/>
<rect x="710" y="484" width="15" height="18" fill="#5ac8dd"/>
<text class="lb" x="711.8" y="496" style="font-size:11.5px">8</text>
<rect x="571" y="632" width="15" height="18" fill="#dcdcdc"/>
<rect x="569" y="630" width="15" height="18" fill="#5ac8dd"/>
<text class="lb" x="570.8" y="642" style="font-size:11.5px">5</text>
</g>
<!-- 91_text.svg -->
<g id="texts">
<text class="tx" x="797" y="354">G250S02</text>
<text class="tx" x="328" y="848">G250S02</text>
</g>

</svg>
</body></html>
